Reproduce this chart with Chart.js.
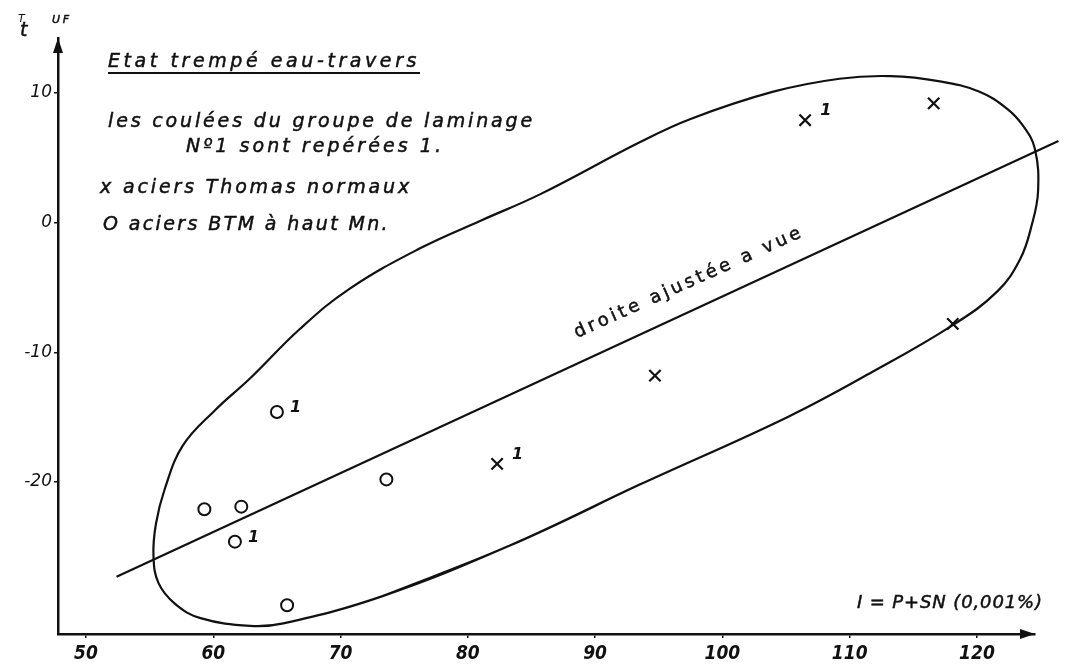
<!DOCTYPE html>
<html>
<head>
<meta charset="utf-8">
<script src="https://cdn.jsdelivr.net/npm/chart.js@4.4.0/dist/chart.umd.min.js"></script>
<style>
  html, body { margin: 0; padding: 0; background: #fff; }
  #wrap { width: 1067px; height: 669px; }
</style>
</head>
<body>
<div id="wrap"><canvas id="myChart" width="1067" height="669"></canvas></div>
<script>
// tick labels
var xTicks = [50, 60, 70, 80, 90, 100, 110, 120];
var yTicks = [-20, -10, 0, 10];

// x = aciers Thomas normaux
var thomasX = [106.5, 116.6, 118.1, 94.7, 82.3];
var thomasY = [7.9, 9.2, -7.8, -11.8, -18.6];
var thomasTag = ['1', '', '', '', '1'];

// O = aciers BTM a haut Mn
var btmX = [65.0, 59.3, 62.2, 61.7, 73.6, 65.8];
var btmY = [-14.6, -22.1, -21.9, -24.6, -19.8, -29.5];
var btmTag = ['1', '', '', '1', '', ''];

// droite ajustee a vue
var fitX = [52.4, 126.4];
var fitY = [-27.3, 6.3];

// contour drawn round the points (closed, first two points repeated at the end so the join stays smooth)
var loopX = [73.3, 83.3, 93.5, 105.1, 111.8, 118.1, 121.6, 123.4, 124.3, 124.8, 124.55, 123.6, 122.35, 120.2, 117.1,
             113.2, 109.2, 104.0, 97.5, 93.5, 85.7, 81.0, 76.2, 70.7, 66.8, 62.9, 60.1, 57.6, 56.2, 55.5,
             55.3, 55.7, 57.0, 59.0, 62.9, 65.5, 73.3, 83.3, 93.5];
var loopY = [-28.8, -24.9, -20.2, -15.0, -11.5, -7.9, -5.3, -2.8, -0.2, 2.4, 5.7, 7.5, 8.8, 10.1, 10.9,
             11.3, 11.1, 10.1, 8.0, 6.2, 2.2, 0.15, -2.0, -5.1, -8.2, -12.0, -14.5, -17.2, -20.5, -23.2,
             -25.7, -27.8, -29.4, -30.5, -31.1, -30.9, -28.8, -24.9, -20.2];

function toPts(xs, ys) {
    return xs.map(function (x, i) { return { x: x, y: ys[i] }; });
}

// draw a string stretched to a given width with letter spacing (pen-like stroke)
function fitText(ctx, str, x, y, width) {
    ctx.letterSpacing = '0px';
    var w = ctx.measureText(str).width;
    var ls = (width - w) / str.length;
    ctx.letterSpacing = ls + 'px';
    ctx.fillText(str, x, y);
    ctx.lineWidth = 0.5;
    ctx.strokeText(str, x, y);
    ctx.letterSpacing = '0px';
}

var annotations = {
    id: 'annotations',
    afterDraw: function (chart) {
        var ctx = chart.ctx;
        var area = chart.chartArea;
        ctx.save();
        ctx.fillStyle = '#111';
        ctx.strokeStyle = '#111';
        ctx.textBaseline = 'alphabetic';
        ctx.textAlign = 'left';

        // arrows on the axes
        ctx.beginPath();
        ctx.moveTo(area.left, area.top);
        ctx.lineTo(area.left - 5, area.top + 15);
        ctx.lineTo(area.left + 5, area.top + 15);
        ctx.closePath();
        ctx.fill();
        ctx.beginPath();
        ctx.moveTo(area.right, area.bottom);
        ctx.lineTo(area.right - 15, area.bottom - 5);
        ctx.lineTo(area.right - 15, area.bottom + 5);
        ctx.closePath();
        ctx.fill();

        // y axis title
        ctx.font = 'italic 11px "DejaVu Sans"';
        ctx.fillText('T', 18, 22);
        ctx.font = 'italic 19px "DejaVu Sans"';
        fitText(ctx, 't', 20, 36, 8);
        ctx.font = 'italic 11px "DejaVu Sans"';
        fitText(ctx, 'UF', 52, 23, 20);

        // x axis title
        ctx.font = 'italic 18px "DejaVu Sans"';
        fitText(ctx, 'I = P+SN (0,001%)', 857, 608, 186);

        // legend block
        ctx.font = 'italic 19px "DejaVu Sans"';
        fitText(ctx, 'Etat trempé eau-travers', 108, 67, 312);
        ctx.lineWidth = 2;
        ctx.beginPath();
        ctx.moveTo(108, 73);
        ctx.lineTo(420, 73);
        ctx.stroke();
        fitText(ctx, 'les coulées du groupe de laminage', 108, 127, 427);
        fitText(ctx, 'Nº1 sont repérées 1.', 186, 152, 258);
        fitText(ctx, 'x aciers Thomas normaux', 100, 193, 312);
        fitText(ctx, 'O aciers BTM à haut Mn.', 103, 230, 287);

        // label along the fitted line
        ctx.save();
        ctx.translate(577, 338);
        ctx.rotate(-24.2 * Math.PI / 180);
        ctx.font = '18px "DejaVu Sans"';
        fitText(ctx, 'droite ajustée a vue', 0, 0, 250);
        ctx.restore();

        // "1" tags next to the group 1 points
        ctx.font = 'bold italic 16px "DejaVu Sans"';
        chart.data.datasets.forEach(function (ds, di) {
            if (!ds.tags) return;
            var meta = chart.getDatasetMeta(di);
            ds.tags.forEach(function (t, i) {
                if (!t) return;
                var p = meta.data[i];
                ctx.fillText(t, p.x + ds.tagDx, p.y + ds.tagDy);
            });
        });
        ctx.restore();
    }
};

var chartElement = document.getElementById('myChart').getContext('2d');
var myChart = new Chart(chartElement, {
    type: 'scatter',
    data: {
        datasets: [
            {
                label: 'contour',
                data: toPts(loopX, loopY),
                showLine: true,
                borderColor: '#111',
                borderWidth: 2.2,
                pointRadius: 0,
                tension: 0.4,
                fill: false,
                clip: false
            },
            {
                label: 'droite ajustée a vue',
                data: toPts(fitX, fitY),
                showLine: true,
                borderColor: '#111',
                borderWidth: 2.2,
                pointRadius: 0,
                fill: false,
                clip: false
            },
            {
                label: 'aciers Thomas normaux',
                data: toPts(thomasX, thomasY),
                pointStyle: 'crossRot',
                pointRadius: 8,
                borderColor: '#111',
                borderWidth: 2.2,
                tags: thomasTag,
                tagDx: 15,
                tagDy: -5,
                clip: false
            },
            {
                label: 'aciers BTM à haut Mn.',
                data: toPts(btmX, btmY),
                pointStyle: 'circle',
                pointRadius: 6,
                backgroundColor: '#fff',
                borderColor: '#111',
                borderWidth: 2,
                tags: btmTag,
                tagDx: 13,
                tagDy: 0,
                clip: false
            }
        ]
    },
    options: {
        responsive: false,
        animation: false,
        elements: { line: { capBezierPoints: false } },
        layout: { padding: { top: 38, right: 32, left: 0, bottom: 0 } },
        plugins: {
            legend: { display: false },
            tooltip: { enabled: false }
        },
        scales: {
            x: {
                type: 'linear',
                min: 47.8,
                max: 124.56,
                afterBuildTicks: function (axis) {
                    axis.ticks = xTicks.map(function (v) { return { value: v }; });
                },
                afterFit: function (axis) { axis.height = 35; },
                grid: { drawOnChartArea: false, drawTicks: true, tickLength: 4, color: '#111', lineWidth: 1.5 },
                border: { display: true, color: '#111', width: 2.5 },
                ticks: {
                    color: '#111',
                    padding: 5,
                    maxRotation: 0,
                    font: { family: '"DejaVu Sans Condensed"', style: 'italic', weight: 'bold', size: 19 }
                }
            },
            y: {
                type: 'linear',
                min: -31.72,
                max: 14.24,
                afterBuildTicks: function (axis) {
                    axis.ticks = yTicks.map(function (v) { return { value: v }; });
                },
                afterFit: function (axis) { axis.width = 58; },
                grid: { drawOnChartArea: false, drawTicks: true, tickLength: 4, color: '#111', lineWidth: 1.5 },
                border: { display: true, color: '#111', width: 2.5 },
                ticks: {
                    color: '#111',
                    padding: 2,
                    font: { family: '"DejaVu Sans"', style: 'italic', size: 17 }
                }
            }
        }
    },
    plugins: [annotations]
});
</script>
</body>
</html>
